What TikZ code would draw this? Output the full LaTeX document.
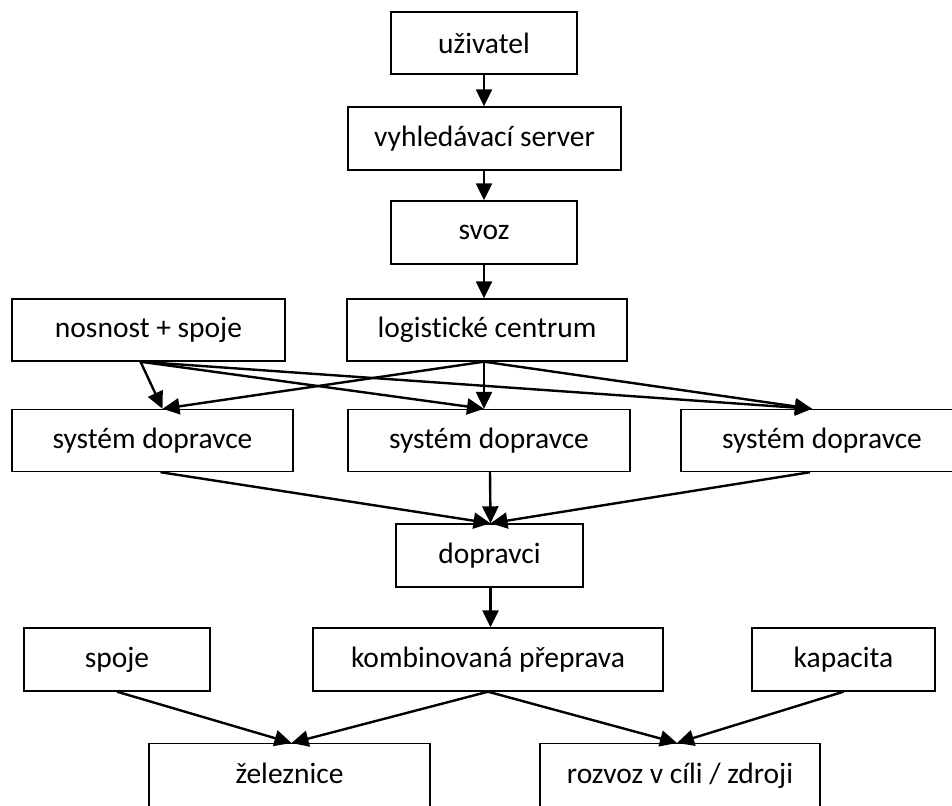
\documentclass[tikz,border=0pt]{standalone}
\usepackage{fontspec}
\setmainfont{Carlito}[Ligatures=NoCommon]
\usetikzlibrary{arrows.meta,calc}
\begin{document}
\begin{tikzpicture}[x=1pt,y=-1pt,
  box/.style={draw,line width=1.4pt,inner sep=0pt,minimum height=62pt,
    font=\fontsize{29.5}{34}\selectfont},
  openbox/.style={draw,line width=1.4pt,inner sep=0pt,text height=40pt,text depth=48pt,
    font=\fontsize{29.5}{34}\selectfont},
  arr/.style={line width=2.4pt,-{Triangle[length=17pt,width=16pt]}}]
\useasboundingbox (0,0) rectangle (952,805);
\clip (0,0) rectangle (952,805);
\fill[white] (0,0) rectangle (952,805);
% nodes
\node[box,minimum width=186pt] (u) at (484,43) {uživatel};
\node[box,minimum width=273pt,minimum height=63pt] (v) at (484.5,138.5) {vyhledávací server};
\node[box,minimum width=186pt,minimum height=63pt] (s) at (484,232.5) {svoz};
\node[box,minimum width=273pt] (n) at (148.5,330) {nosnost + spoje};
\node[box,minimum width=280pt] (l) at (487,330) {logistické centrum};
\node[box,minimum width=281pt] (d1) at (152.5,440.5) {systém dopravce};
\node[box,minimum width=282pt] (d2) at (489,440.5) {systém dopravce};
\node[box,minimum width=282pt] (d3) at (822,440.5) {systém dopravce};
\node[box,minimum width=187pt,minimum height=63pt] (dop) at (489.5,555.5) {dopravci};
\node[box,minimum width=186pt,minimum height=63pt] (sp) at (117,659.5) {spoje};
\node[box,minimum width=350pt,minimum height=63pt] (k) at (488,659.5) {kombinovaná přeprava};
\node[box,minimum width=183pt,minimum height=63pt] (ka) at (843.5,659.5) {kapacita};
\node[openbox,minimum width=281pt,anchor=north] (z) at (289.5,743) {železnice};
\node[openbox,minimum width=280pt,anchor=north] (r) at (680,743) {rozvoz v cíli / zdroji};
% connectors
\draw[arr] (u.south) -- (u.south |- v.north);
\draw[arr] (s.south |- v.south) -- (s.north);
\draw[arr] (s.south) -- (s.south |- l.north);
\draw[arr] ($(n.south)+(-8,0)$) -- ($(d1.north)+(10,0)$);
\draw[arr] ($(n.south)+(-8,0)$) -- ($(d2.north)+(-5,0)$);
\draw[arr] ($(n.south)+(-8,0)$) -- ($(d3.north)+(-10,0)$);
\draw[arr] ($(l.south)+(-3,0)$) -- ($(d1.north)+(10,0)$);
\draw[arr] ($(l.south)+(-3,0)$) -- ($(d2.north)+(-5,0)$);
\draw[arr] ($(l.south)+(-3,0)$) -- ($(d3.north)+(-10,0)$);
\draw[arr] ($(d1.south)+(8,0)$) -- ($(dop.north)+(1,0)$);
\draw[arr] ($(d2.south)+(1,0)$) -- ($(dop.north)+(1,0)$);
\draw[arr] ($(d3.south)+(-12,0)$) -- ($(dop.north)+(1,0)$);
\draw[arr] ($(dop.south)+(1,0)$) -- ($(dop.south |- k.north)+(1,0)$);
\draw[arr] (sp.south) -- ($(z.north)+(2,0)$);
\draw[arr] (k.south) -- ($(z.north)+(2,0)$);
\draw[arr] (k.south) -- ($(r.north)+(-3,0)$);
\draw[arr] (ka.south) -- ($(r.north)+(-3,0)$);
\end{tikzpicture}
\end{document}
